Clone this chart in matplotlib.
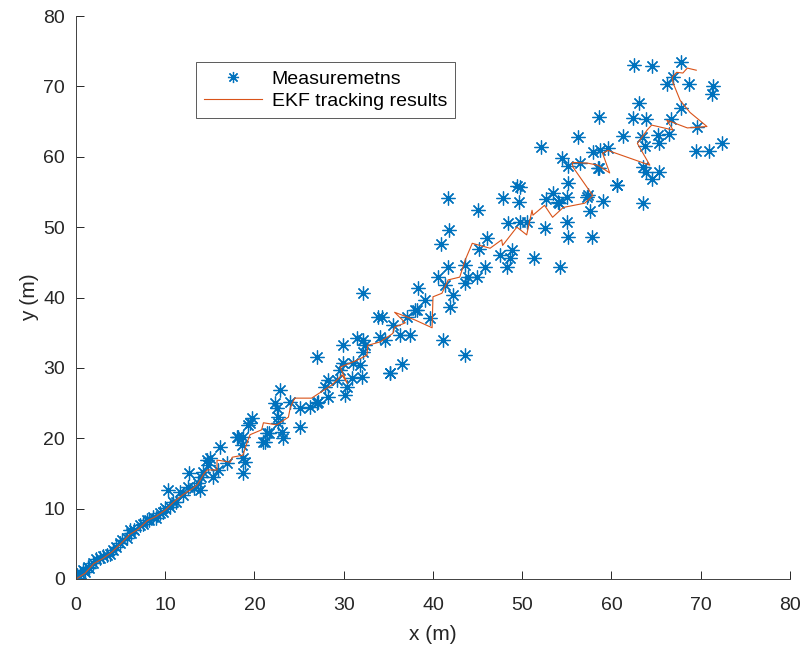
import matplotlib
matplotlib.use('Agg')
import matplotlib.pyplot as plt
import numpy as np

plt.rcParams['font.family'] = ['Liberation Sans', 'DejaVu Sans']

meas_x = [0.1, 0.3, 0.5, 0.8, 1.0, 1.3, 1.5, 1.9, 2.2, 2.7, 3.0, 3.5, 3.8, 4.1, 4.5, 4.9,
          5.2, 5.7, 6.0, 6.2, 6.5, 7.2, 7.5, 7.9, 8.2, 8.6, 9.0, 9.4, 9.8, 10.0, 10.3, 10.5,
          10.9, 11.2, 11.7, 12.0, 12.5, 12.7, 13.2, 13.7, 13.9, 14.0, 14.2, 14.7, 14.8, 15.0,
          15.3, 15.9, 16.1, 16.9, 18.0, 18.2, 18.6, 18.7, 18.7, 18.7, 18.9, 19.3, 19.5, 19.7,
          20.9, 21.2, 21.4, 21.6, 22.3, 22.5, 22.6, 22.6, 22.9, 23.1, 23.2, 24.0, 25.1, 25.1,
          26.2, 27.0, 27.0, 27.1, 27.9, 28.2, 28.2, 29.2, 29.6, 29.9, 29.9, 30.1, 30.4, 30.9,
          31.0, 31.5, 31.8, 32.0, 32.2, 32.2, 32.2, 32.4, 33.8, 34.1, 34.3, 34.6, 35.2, 35.2,
          35.5, 36.3, 36.5, 37.1, 37.4, 38.0, 38.2, 38.3, 39.1, 39.7, 40.6, 40.9, 41.1, 41.3,
          41.7, 41.7, 41.8, 41.9, 42.2, 43.6, 43.6, 43.6, 43.9, 44.9, 45.0, 45.2, 45.8, 46.1,
          47.5, 47.8, 48.3, 48.4, 48.6, 48.9, 49.4, 49.6, 49.7, 49.7, 50.5, 51.3, 52.1, 52.5,
          52.7, 53.4, 54.0, 54.1, 54.2, 54.5, 55.0, 55.0, 55.1, 55.1, 55.1, 56.2, 56.5, 57.3,
          57.4, 57.6, 57.8, 57.9, 58.5, 58.6, 58.6, 58.7, 59.0, 59.6, 60.6, 60.6, 61.3, 62.4,
          62.5, 63.1, 63.4, 63.5, 63.5, 63.8, 63.9, 63.9, 64.5, 64.5, 65.2, 65.3, 65.3, 66.2,
          66.4, 66.7, 66.9, 67.8, 67.8, 68.7, 69.5, 69.6, 70.9, 71.3, 71.4, 72.4]
meas_y = [0.6, 0.2, 0.8, 1.3, 1.0, 1.7, 1.5, 2.3, 2.8, 3.0, 3.2, 3.4, 3.6, 4.1, 4.5, 5.1,
          5.5, 5.8, 7.0, 6.5, 7.0, 7.7, 7.8, 8.4, 8.4, 8.8, 8.7, 9.4, 9.5, 10.1, 12.6, 10.2,
          10.9, 11.0, 12.4, 12.0, 13.1, 15.1, 12.9, 13.6, 12.6, 14.5, 15.2, 16.9, 16.2, 17.2,
          14.5, 15.5, 18.8, 16.5, 20.2, 20.2, 19.0, 17.2, 15.1, 20.2, 16.6, 21.9, 22.2, 22.9,
          19.5, 19.5, 20.7, 20.7, 25.0, 24.3, 23.0, 22.2, 26.8, 20.9, 20.0, 25.1, 24.3, 21.6,
          24.4, 31.5, 25.0, 25.1, 27.3, 28.3, 25.9, 28.3, 29.7, 33.2, 30.7, 26.1, 27.3, 28.6,
          30.7, 34.2, 30.4, 28.7, 40.6, 34.0, 32.2, 33.2, 37.2, 34.4, 37.2, 34.0, 29.3, 29.3,
          36.1, 34.7, 30.5, 37.2, 34.7, 38.2, 38.2, 41.3, 39.6, 37.1, 42.9, 47.6, 33.9, 41.8,
          54.1, 44.3, 49.6, 38.6, 40.3, 44.6, 42.0, 31.8, 42.9, 42.9, 52.4, 46.9, 44.3, 48.4,
          46.0, 54.1, 44.3, 50.6, 45.6, 46.7, 55.8, 53.6, 50.7, 55.7, 50.7, 45.6, 61.4, 49.9,
          54.0, 54.8, 53.6, 53.4, 44.3, 59.8, 50.7, 54.3, 48.6, 56.3, 58.7, 62.8, 59.1, 54.3,
          54.6, 52.3, 48.6, 60.7, 58.4, 65.6, 58.4, 60.9, 53.7, 61.2, 56.0, 56.0, 62.9, 65.5,
          73.0, 67.6, 62.8, 58.5, 53.4, 61.5, 65.3, 57.8, 72.9, 56.8, 63.1, 61.9, 57.8, 70.3,
          63.2, 65.3, 71.4, 73.4, 66.9, 70.3, 60.8, 64.3, 60.8, 68.9, 70.0, 61.9]

# EKF track
ekf_x = [0.0, 1.0, 2.0, 3.0, 4.0, 5.0, 6.0, 7.0, 8.0, 9.0, 10.0, 11.0, 12.0, 13.0, 13.6,
         14.3, 14.7, 15.8, 15.8, 17.3, 17.5, 18.7, 19.2, 19.5, 20.8, 21.0, 22.5, 23.8, 24.0,
         24.5, 26.4, 28.7, 29.8, 30.4, 29.6, 31.5, 32.6, 32.7, 34.1, 35.5, 35.7, 36.9, 35.7,
         38.0, 39.9, 40.0, 41.0, 41.7, 43.0, 43.6, 44.4, 46.4, 47.7, 47.8, 49.4, 50.5, 51.1,
         51.2, 52.5, 53.4, 54.6, 57.0, 57.9, 55.7, 55.6, 57.3, 58.5, 59.8, 59.0, 59.6, 64.3,
         62.9, 64.0, 64.5, 66.9, 66.2, 68.5, 70.7, 68.8, 67.7, 66.9, 66.8, 67.3, 68.0, 68.5, 69.5]
ekf_y = [0.0, 0.8, 2.2, 2.9, 3.8, 5.0, 6.3, 7.1, 8.3, 8.9, 9.8, 11.0, 12.0, 12.8, 13.4,
         14.9, 15.5, 15.5, 16.9, 16.6, 17.3, 17.6, 19.5, 20.5, 21.2, 22.2, 21.9, 23.0, 24.3,
         25.7, 25.7, 27.6, 29.0, 27.8, 30.1, 31.1, 31.8, 33.2, 33.7, 34.9, 35.8, 36.4, 37.9,
         36.8, 35.7, 40.1, 40.6, 42.5, 42.9, 45.3, 47.7, 47.0, 48.2, 47.4, 50.0, 48.9, 52.4,
         51.7, 53.1, 51.4, 52.8, 53.4, 54.5, 58.5, 59.2, 59.1, 58.8, 57.7, 60.5, 60.9, 58.8,
         61.9, 63.8, 64.5, 63.8, 65.2, 64.1, 64.3, 66.3, 68.0, 70.5, 71.3, 72.0, 71.9, 72.6, 72.3]

fig = plt.figure(figsize=(8.06, 6.54), dpi=100)
ax = fig.add_axes([0.0943, 0.1147, 0.8858, 0.8608])

ax.plot(meas_x, meas_y, linestyle='none', marker=(8, 2, 0), markersize=10,
        markeredgewidth=0.9, color='#0072BD', label='Measuremetns')
ax.plot(ekf_x, ekf_y, color='#D95319', linewidth=0.8, label='EKF tracking results')

ax.set_xlim(0, 80)
ax.set_ylim(0, 80)
ax.set_xticks(np.arange(0, 81, 10))
ax.set_yticks(np.arange(0, 81, 10))
ax.set_xlabel('x (m)', fontsize=15, color='#262626', labelpad=8)
ax.set_ylabel('y (m)', fontsize=15, color='#262626', labelpad=3)
ax.tick_params(direction='in', length=5.5, width=0.7, labelsize=14,
               colors='#262626')
ax.tick_params(axis='x', pad=13)
ax.tick_params(axis='y', pad=8)
for s in ['top', 'right']:
    ax.spines[s].set_visible(False)
for s in ['left', 'bottom']:
    ax.spines[s].set_color('#404040')
    ax.spines[s].set_linewidth(0.7)

leg = ax.legend(loc='upper left', bbox_to_anchor=(0.168, 0.918), fontsize=14,
                fancybox=False, framealpha=1, edgecolor='#404040', borderpad=0.4,
                handlelength=3.0, handletextpad=0.5, labelspacing=0.25,
                borderaxespad=0, markerscale=0.8)
leg.get_frame().set_linewidth(0.6)

fig.savefig('out.png', dpi=100)
